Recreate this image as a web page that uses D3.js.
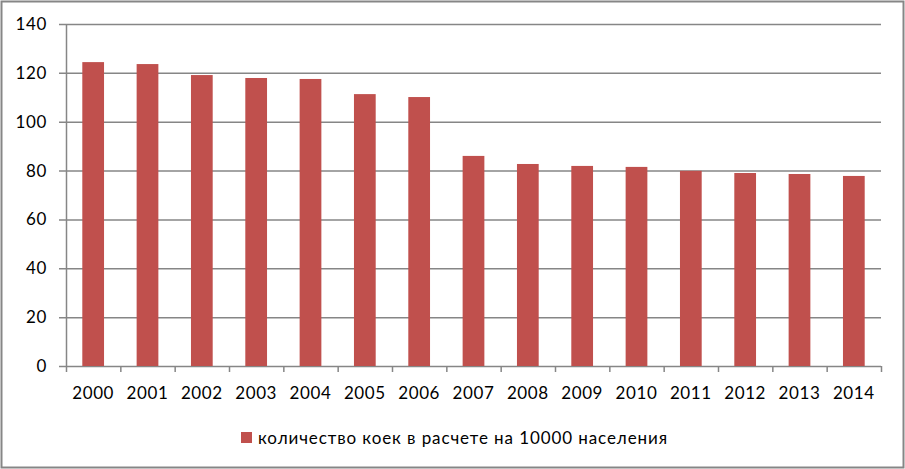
<!DOCTYPE html>
<html>
<head>
<meta charset="utf-8">
<script src="https://cdn.jsdelivr.net/npm/d3@7"></script>
<style>
  body { margin: 0; background: #fff; }
  svg { display: block; }
  text { font-family: Lato, "Open Sans", sans-serif; fill: #000; }
</style>
</head>
<body>
<svg width="905" height="469"></svg>
<script>
var years = ["2000", "2001", "2002", "2003", "2004", "2005", "2006", "2007",
  "2008", "2009", "2010", "2011", "2012", "2013", "2014"];
var beds = [124.4, 123.6, 119.1, 117.9, 117.5, 111.3, 110.1, 86.0,
  82.7, 81.9, 81.5, 79.9, 79.0, 78.6, 77.8];
var yTicks = [0, 20, 40, 60, 80, 100, 120, 140];
var seriesName = "количество коек в расчете на 10000 населения";

var svg = d3.select("svg"),
  margin = {top: 24, right: 24, bottom: 103, left: 66},
  width = svg.attr("width") - margin.left - margin.right,
  height = svg.attr("height") - margin.top - margin.bottom;

// outer frame
svg.append("rect")
  .attr("x", 1.5).attr("y", 1.5)
  .attr("width", 902).attr("height", 466)
  .attr("fill", "none")
  .attr("stroke", "#868686")
  .attr("stroke-width", 2);

var g = svg.append("g").attr("transform", "translate(" + margin.left + "," + margin.top + ")");

var x = d3.scaleBand().domain(years).range([0, width]).paddingInner(0.6).paddingOuter(0.3),
  y = d3.scaleLinear().domain([0, 140]).range([height, 0]);

// gridlines
g.append("g")
  .selectAll("line")
  .data(yTicks)
  .enter().append("line")
  .attr("x1", -7).attr("x2", width)
  .attr("y1", function(d) { return y(d) + 0.5; })
  .attr("y2", function(d) { return y(d) + 0.5; })
  .attr("stroke", "#868686")
  .attr("stroke-width", 1.5);

// y axis line
g.append("line")
  .attr("x1", 0.5).attr("x2", 0.5)
  .attr("y1", 0).attr("y2", height)
  .attr("stroke", "#868686")
  .attr("stroke-width", 1.5);

g.append("g")
  .selectAll("text")
  .data(yTicks)
  .enter().append("text")
  .attr("x", -19)
  .attr("y", function(d) { return y(d); })
  .attr("dy", "0.35em")
  .attr("text-anchor", "end")
  .style("font-size", "17px")
  .style("letter-spacing", "0.6px")
  .text(function(d) { return d; });

// bars
g.selectAll(".bar")
  .data(beds)
  .enter().append("rect")
  .attr("class", "bar")
  .attr("x", function(d, i) { return x(years[i]); })
  .attr("width", x.bandwidth())
  .attr("y", function(d) { return y(d); })
  .attr("height", function(d) { return height - y(d); })
  .attr("fill", "#c0504d");

// x axis
var step = x.step();
g.append("g")
  .selectAll("line")
  .data(d3.range(years.length + 1))
  .enter().append("line")
  .attr("x1", function(i) { return i * step + 0.5; })
  .attr("x2", function(i) { return i * step + 0.5; })
  .attr("y1", height).attr("y2", height + 6)
  .attr("stroke", "#868686")
  .attr("stroke-width", 1.5);

g.append("g")
  .selectAll("text")
  .data(years)
  .enter().append("text")
  .attr("x", function(d) { return x(d) + x.bandwidth() / 2; })
  .attr("y", height + 33)
  .attr("text-anchor", "middle")
  .style("font-size", "17px")
  .style("letter-spacing", "0.6px")
  .text(function(d) { return d; });

// legend
var legend = svg.append("g").attr("transform", "translate(241,432)");
legend.append("rect")
  .attr("width", 11).attr("height", 11)
  .attr("fill", "#c0504d");
legend.append("text")
  .attr("x", 17).attr("y", 12)
  .style("font-size", "17px")
  .style("letter-spacing", "0.9px")
  .text(seriesName);
</script>
</body>
</html>
